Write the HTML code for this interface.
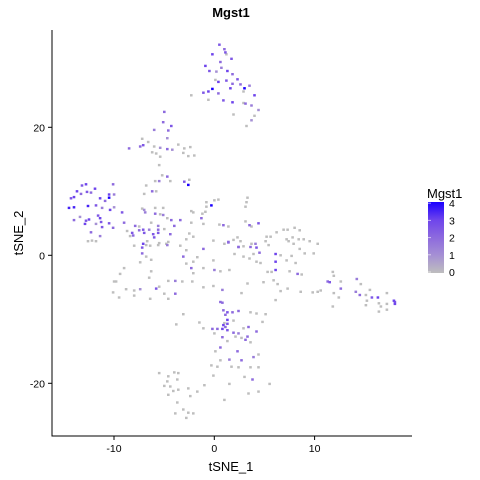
<!DOCTYPE html>
<html><head><meta charset="utf-8"><style>
body{margin:0;background:#fff}
svg{display:block;font-family:"Liberation Sans",sans-serif}
</style></head><body>
<svg id="chart" width="480" height="480" viewBox="0 0 480 480">
<defs><linearGradient id="cg" x1="0" y1="1" x2="0" y2="0">
<stop offset="0" stop-color="#bebebe"/><stop offset="0.25" stop-color="#a590d4"/><stop offset="0.5" stop-color="#8d6ade"/><stop offset="0.75" stop-color="#6e44ec"/><stop offset="1" stop-color="#1a00ff"/></linearGradient></defs>
<text x="231" y="17" font-size="13" font-weight="bold" text-anchor="middle">Mgst1</text>
<g id="pts"></g>
<line x1="52" y1="30" x2="52" y2="436.5" stroke="#000" stroke-width="1"/>
<line x1="51.5" y1="436" x2="412" y2="436" stroke="#000" stroke-width="1"/>
<g id="xt"></g>
<g id="yt"></g>
<text x="231" y="471" font-size="13" text-anchor="middle">tSNE_1</text>
<text x="23" y="233" font-size="13" text-anchor="middle" transform="rotate(-90 23 233)">tSNE_2</text>
<g>
<text x="427" y="198" font-size="13">Mgst1</text>
<rect x="428" y="202" width="16" height="71" fill="url(#cg)"/>
<g id="lt"></g>
</g>
</svg>
<script>
const xTicks=[-10,0,10];
const yTicks=[-20,0,20];
const legendTicks=[0,1,2,3,4];
const ptX=[0.5,1.0,-0.2,1.1,1.2,1.7,-0.9,0.6,0.7,-0.5,0.2,1.3,1.8,0.1,0.4,1.2,1.8,2.3,2.6,3.5,3.0,1.6,-0.2,-0.6,-1.1,0.4,2.9,4.0,-2.3,-0.6,0.9,1.8,2.9,3.1,3.7,4.4,1.9,4.0,3.7,3.2,
-5.0,-5.1,-4.3,-6.0,-4.6,-7.2,-4.7,-6.6,-8.5,-7.4,-7.1,-6.0,-5.4,-4.7,-4.2,-3.6,-3.0,-2.4,-6.2,-5.8,-5.4,-3.1,-2.6,-2.0,-5.5,-5.2,-4.7,-2.5,-5.9,-5.5,-4.4,-3.0,-2.6,-6.8,-6.2,-5.8,-7.0,
-12.8,-13.2,-11.9,-10.1,-13.7,-13.3,-12.7,-12.3,-14.3,-14.0,-11.4,-10.5,-10.0,-10.5,-10.9,-14.5,-14.0,-12.6,-11.8,-11.2,-10.4,-10.0,-9.2,-11.6,-11.4,-14.0,-13.4,-12.5,-12.8,-11.3,-10.5,-12.9,-11.8,-11.2,-10.1,-12.3,-11.4,-12.6,-12.2,-11.8,
-7.2,-7.0,-6.9,-5.9,-5.1,-5.9,-5.4,-5.1,-2.3,-2.1,-4.7,-4.3,-3.4,-9.0,-6.3,-5.6,-5.0,-4.0,-7.9,-7.5,-7.1,-6.5,-7.5,-5.6,-8.7,-8.2,-8.4,-6.1,-4.6,-6.7,-7.1,-5.5,-4.7,-8.0,-3.4,-6.4,
-0.9,-0.8,-0.3,0.0,0.4,-0.8,-1.2,-1.3,-1.1,-2.3,-2.5,-2.1,-2.8,3.3,3.2,3.1,0.5,0.9,1.4,3.1,3.5,4.4,3.7,-0.1,1.4,1.0,1.9,2.3,2.6,2.4,2.9,3.7,4.1,5.2,5.6,6.2,6.9,7.3,8.0,8.5,8.4,8.9,9.5,10.3,7.2,7.8,
-8.1,-7.0,-5.6,-4.4,-6.0,-4.8,-7.2,-6.8,-5.6,1.4,2.4,3.6,4.2,5.4,6.1,6.1,6.1,4.5,3.9,
-7.2,-6.8,-6.3,-7.4,-9.0,-9.4,-10.0,-9.8,-10.1,-9.5,-8.8,-8.0,-7.4,-8.0,-6.4,-5.8,-5.5,-5.0,-4.6,-3.9,-6.3,-6.5,-4.6,-3.9,-3.2,-2.2,-2.1,-1.1,-1.1,-0.1,0.0,0.6,1.5,-0.1,0.8,2.7,3.3,4.9,5.9,6.3,6.6,7.3,6.1,8.6,10.3,9.8,10.6,-3.1,-2.8,-2.3,-2.1,-1.7,-2.8,-1.1,
2.0,2.9,3.5,4.2,4.6,5.3,5.7,7.5,8.3,8.7,8.1,7.7,8.5,9.0,9.9,7.2,6.6,7.9,7.4,5.1,
11.3,11.5,11.8,11.9,12.6,12.6,11.9,12.4,11.8,14.1,14.2,14.6,14.5,15.1,15.5,15.7,15.2,15.1,16.3,16.4,17.2,17.2,16.6,16.4,17.2,17.9,18.0,18.0,
0.6,0.8,0.9,1.3,1.8,2.4,1.1,3.6,4.2,5.1,-3.1,-1.5,-1.1,-3.8,1.0,1.3,1.9,0.9,1.3,1.1,0.8,0.3,-0.2,0.0,1.3,1.9,2.4,2.9,3.4,4.2,4.8,0.8,1.3,2.1,2.7,3.1,3.3,3.6,0.6,0.1,2.3,2.7,3.9,4.4,1.5,0.6,-0.3,0.3,1.7,2.4,3.6,4.4,-0.1,3.0,3.8,1.5,5.5,4.4,3.4,1.0,-1.0,-1.7,
-5.5,-4.6,-4.0,-3.6,-3.7,-5.0,-4.7,-4.1,-4.6,-3.6,-3.7,-2.6,-3.1,-2.6,-2.1,-3.9,-2.8,-4.4,-2.4];
const ptY=[32.9,32.2,31.4,31.7,31.4,30.7,29.6,30.2,29.3,28.8,28.7,28.8,28.3,27.4,27.1,27.3,26.8,27.5,26.7,26.5,26.1,26.1,26.0,25.6,25.4,25.3,25.6,25.0,25.0,24.3,24.2,23.9,23.8,23.7,23.4,22.7,22.0,21.8,21.1,20.2,
22.4,20.8,20.2,19.6,19.5,18.2,18.3,17.7,16.7,17.0,17.2,17.0,16.8,16.6,16.5,17.3,16.7,16.9,16.1,15.9,15.4,16.0,15.5,15.6,14.1,12.5,12.3,11.8,11.6,11.6,11.6,11.5,11.0,10.9,10.0,10.0,9.6,
11.1,10.9,10.4,11.1,10.0,9.6,9.9,9.8,8.9,9.1,8.9,9.5,9.5,9.0,8.5,7.4,7.5,7.7,7.8,7.4,7.1,7.5,6.7,6.2,5.8,5.5,6.0,5.6,5.4,5.2,5.0,4.9,4.9,4.4,4.3,3.6,3.0,2.2,2.3,2.2,
7.3,7.1,6.7,7.4,7.4,6.5,6.4,6.3,6.9,6.7,5.8,5.5,5.5,5.1,5.1,4.6,4.1,4.6,4.6,4.5,4.0,4.0,3.9,4.0,3.8,3.5,3.0,3.3,2.1,2.2,1.8,1.9,1.6,1.5,1.5,1.5,
6.8,8.3,7.8,8.6,8.7,7.6,6.5,5.8,4.9,5.1,3.4,2.9,2.5,9.0,8.3,7.6,4.8,4.7,4.5,5.3,4.7,5.0,4.5,2.3,2.1,1.8,2.4,2.8,2.2,1.3,1.4,1.8,1.8,2.9,2.9,3.6,4.0,4.0,4.3,3.9,2.5,2.5,2.2,1.8,2.5,2.8,
3.1,3.5,3.5,3.3,2.8,1.8,1.2,1.6,1.6,2.0,1.3,1.3,1.2,1.6,0.2,-1.0,-2.3,0.4,0.2,
0.3,-0.2,-0.7,-1.1,-2.0,-2.9,-4.1,-4.1,-5.8,-6.6,-5.3,-5.5,-5.3,-6.3,-6.8,-5.2,-4.9,-6.0,-6.8,-6.0,-2.5,-3.5,-4.0,-4.0,-4.1,-4.1,-2.8,-2.0,-5.0,-0.8,-2.3,-2.5,-2.3,-4.8,-5.4,-5.9,-4.4,-4.2,-3.9,-4.5,-5.6,-5.2,-7.0,-5.7,-5.7,-5.8,-5.5,-0.2,-1.3,-2.0,-1.0,-0.3,0.8,1.0,
0.2,-0.2,-0.5,-1.0,-1.2,-2.6,-2.6,-2.5,-2.9,-3.0,-1.2,-0.1,1.0,0.3,0.3,-0.8,0.0,1.8,2.2,2.2,
-4.1,-4.2,-2.6,-3.2,-4.1,-5.2,-5.9,-6.6,-8.0,-5.7,-3.7,-4.5,-6.2,-6.2,-5.4,-6.6,-7.1,-7.8,-6.6,-7.5,-5.9,-7.6,-8.0,-8.8,-8.5,-7.1,-7.6,-7.3,
-7.3,-7.4,-8.6,-8.9,-8.9,-8.7,-9.3,-8.9,-9.1,-9.2,-9.2,-10.5,-11.4,-10.8,-10.6,-10.1,-10.2,-10.9,-10.7,-11.2,-11.5,-11.5,-11.5,-12.2,-11.7,-12.1,-12.2,-11.4,-11.2,-11.9,-10.4,-12.8,-13.4,-12.7,-12.9,-13.2,-12.7,-13.6,-14.4,-15.0,-15.0,-16.4,-15.9,-15.5,-16.3,-16.4,-17.2,-17.4,-17.4,-17.5,-17.5,-17.5,-18.8,-19.0,-19.4,-20.1,-20.1,-21.3,-21.6,-22.6,-20.3,-21.3,
-18.4,-18.9,-18.3,-18.4,-19.4,-20.4,-19.7,-21.2,-21.8,-21.0,-23.0,-20.8,-24.1,-24.6,-24.7,-24.7,-25.4,-20.5,-22.0];
const ptV=[2.5,2,3,2.5,0,2.5,3,2,1.5,2.5,1,3,2,0,3,2.5,2,2.5,2,1.5,4,3,4,3,2.5,2,0,3,0,0,2.5,3,0,2,1.5,1,0,0,1,0,
2,2,2.5,1.5,2,0,1,0,2,2,2.5,0,1,2,1,0,0,0,0,0,0,0,0,0,0,0,2,0,0,1.5,0,2.5,4,0,2,0,0,
3,2.5,3,2,3,2,2.5,2,2.5,3,3,3,1.5,4,2,3.5,3.5,3.5,2.5,1.5,3,1,2.5,2.5,3,2,1,3,2.5,2.5,2.5,3,1,2.5,2,2,1.5,0,0,0,
0,1,1.5,0,0,2,0,1.5,0,0,0,2,2,2,0,1.5,0,2,2,0,2.5,1.5,2,2,0,2.5,0,2.5,0,0,3,0,1.5,0,0,0,
0,0,4,0,0,0,0,2,0,0,0,0,0,0,0,0,0,2,0,0,2,2.5,0,0,2,0,0,0,0,2,0,0,1.5,0,0,0,0,0,0,0,0,0,0,0,0,0,
2,2.5,2.5,2,2.5,0,2.5,0,0,2,1.5,2,2.5,0,3,3,3,2,0,
2,0,0,0,0,0,0,0,0,0,0,0,1,0,0,2.5,0,0,0,2,0,0,0,1.5,0,0,0,0,0,0,1.5,0,0,0,1.5,0,0,0,0,0,0,0,0,0,0,0,0,2,0,2,0,0,0,2,
0,0,0,0,0,0,0,0,2,0,0,0,0,0,0,0,0,0,0,0,
2,2.5,0,0,0,2,0,0,0,1.5,1.5,0,2,0,0,2.5,0,0,3,0,0,0,0,0,0,3,3,2.5,
2,2,2,2.5,2,2,2,0,0,0,0,0,0,0,0,3,0,3,2.5,2,3,2,2,0,2.5,2,1.5,0,2,2,0,2,0,0,0,2,2,0,2,0,2,2,1.5,0,1.5,0,0,0,0,0,0,0,0,0,2,0,0,0,0,0,0,0,
0,0,0,0,0,0,0,0,0,0,0,0,0,0,0,0,0,0,0];
const NS='http://www.w3.org/2000/svg';
const sx=v=>214.3+v*10.03;
const sy=v=>255.3-v*6.4;
const stops=[[190,190,190],[165,144,212],[141,106,222],[110,68,236],[26,0,255]];
function col(v){const i=Math.min(3,Math.floor(v)),t=v-i,a=stops[i],b=stops[i+1];
return 'rgb('+a.map((c,k)=>Math.round(c+(b[k]-c)*t)).join(',')+')';}
const pts=document.getElementById('pts');
const n=Math.min(ptX.length,ptY.length,ptV.length);
const order=[...Array(n).keys()].sort((a,b)=>ptV[a]-ptV[b]);
for(const i of order){
 const r=document.createElementNS(NS,'rect');
 r.setAttribute('x',(sx(ptX[i])-1.2).toFixed(1));
 r.setAttribute('y',(sy(ptY[i])-1.2).toFixed(1));
 r.setAttribute('width','2.6');r.setAttribute('height','2.4');
 r.setAttribute('fill',col(ptV[i]));
 
 
 pts.appendChild(r);
}
const xt=document.getElementById('xt');
for(const t of xTicks){
 const l=document.createElementNS(NS,'line');
 l.setAttribute('x1',sx(t));l.setAttribute('x2',sx(t));l.setAttribute('y1',436);l.setAttribute('y2',440);l.setAttribute('stroke','#000');
 
 
 xt.appendChild(l);
 const s=document.createElementNS(NS,'text');
 s.setAttribute('x',sx(t));s.setAttribute('y',452);s.setAttribute('font-size','10.5');s.setAttribute('text-anchor','middle');
 s.textContent=t;
 
 
 xt.appendChild(s);
}
const yt=document.getElementById('yt');
for(const t of yTicks){
 const l=document.createElementNS(NS,'line');
 l.setAttribute('x1',48);l.setAttribute('x2',52);l.setAttribute('y1',sy(t));l.setAttribute('y2',sy(t));l.setAttribute('stroke','#000');
 
 
 yt.appendChild(l);
 const s=document.createElementNS(NS,'text');
 s.setAttribute('x',45);s.setAttribute('y',sy(t)+4);s.setAttribute('font-size','10.5');s.setAttribute('text-anchor','end');
 s.textContent=t;
 
 
 yt.appendChild(s);
}
const lt=document.getElementById('lt');
for(const t of legendTicks){
 const y=272-t*17.2;
 const s=document.createElementNS(NS,'text');
 s.setAttribute('x',449);s.setAttribute('y',y+4);s.setAttribute('font-size','10.5');
 s.textContent=t;
 
 
 lt.appendChild(s);
 const l=document.createElementNS(NS,'line');
 l.setAttribute('x1',428);l.setAttribute('x2',431);l.setAttribute('y1',y);l.setAttribute('y2',y);l.setAttribute('stroke','#fff');l.setAttribute('stroke-opacity','0.6');
 
 
 lt.appendChild(l);
}
</script>
</body></html>
